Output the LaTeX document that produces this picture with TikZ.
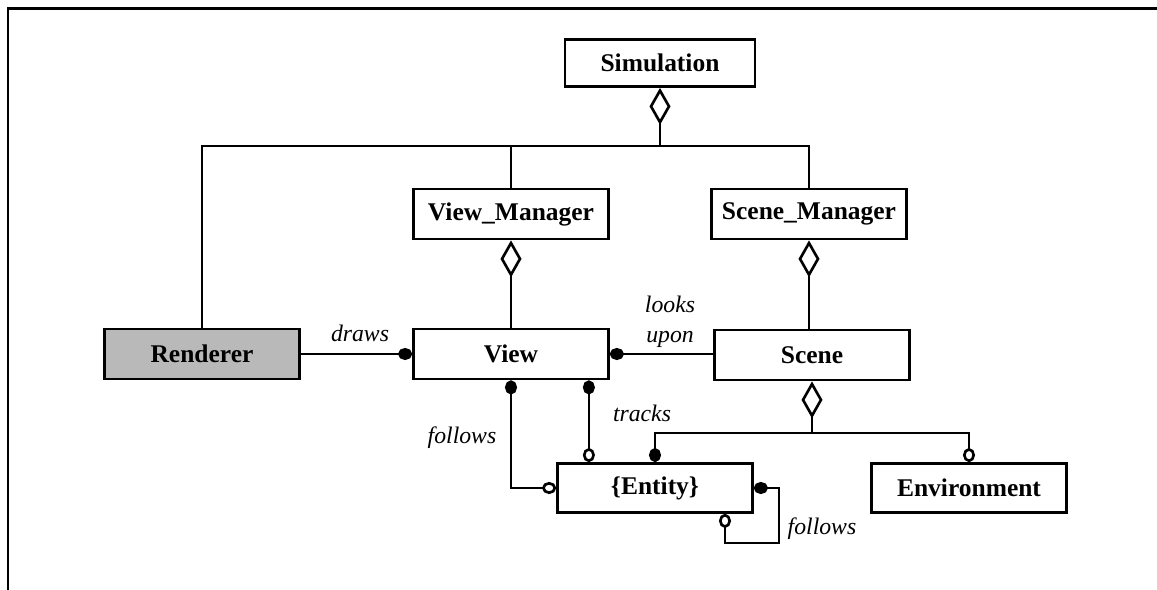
\documentclass[tikz,border=0pt]{standalone}
\usepackage{fontspec}
\setmainfont{Liberation Serif}
\usetikzlibrary{positioning,arrows.meta}
\definecolor{shadegray}{RGB}{185,185,185}

\begin{document}
\begin{tikzpicture}[x=0.02cm, y=-0.02cm,
    every node/.style={font=\fontsize{14.5}{17}\selectfont\bfseries},
    cls/.style={draw,line width=1.6pt,minimum width=3.9cm,minimum height=1cm,inner sep=0pt},
    rel/.style={font=\fontsize{13.5}{17}\selectfont\itshape,align=center,inner sep=1pt},
    link/.style={line width=1.5pt},
    agg/.style={link,{Diamond[open,length=0.74cm,width=0.42cm]}-}]
      \useasboundingbox (0,0) rectangle (1157,590);
      \draw[line width=1.7pt] (1157,9) -- (8,9) -- (8,590);
      \coordinate (topbus) at (0,146);
      \coordinate (scenebus) at (0,433);
      \node[cls,minimum width=3.8cm,minimum height=0.94cm] (sim) at (660,63) {Simulation};
      \node[cls] (vmgr) at (511,214) {View\_Manager};
      \node[cls] (smgr) at (809,214) {Scene\_Manager};
      \node[cls,fill=shadegray] (rend) at (202,354) {Renderer};
      \node[cls] (view) at (511,354) {View};
      \node[cls] (scene) at (812,355) {Scene};
      \node[cls,minimum height=0.98cm] (ent) at (655,488) {\{Entity\}};
      \node[cls,minimum height=0.98cm] (env) at (969,488) {Environment};
      \node[rel] (drawslbl) at (360,333) {draws};
      \node[rel] (lookslbl) at (670,322) {looks\\upon};
      \node[rel] (trackslbl) at (642,413) {tracks};
      \node[rel] (followslbl) at (462,438) {follows};
      \node[rel] (selflbl) at (822,529) {follows};
      % aggregation trees
      \draw[agg] (sim.south) -- (sim.south |- topbus);
      \draw[link] (rend.north) -- (rend.north |- topbus) -- (smgr.north |- topbus) -- (smgr.north);
      \draw[link] (vmgr.north |- topbus) -- (vmgr.north);
      \draw[agg] (vmgr.south) -- (view.north);
      \draw[agg] (smgr.south) -- (smgr.south |- scene.north);
      \draw[agg] (scene.south) -- (scene.south |- scenebus);
      \draw[link,-{Circle[length=2.8mm,width=2.4mm]}] (scene.south |- scenebus) -| (ent.north);
      \draw[link,-{Circle[open,length=2.8mm,width=2.4mm]}] (scene.south |- scenebus) -| (env.north);
      % associations
      \draw[link,-{Circle[length=2.8mm,width=2.4mm]}] (rend.east) -- (view.west);
      \draw[link,{Circle[length=2.8mm,width=2.4mm]}-] (view.east) -- (scene.west |- view.east);
      \draw[link,{Circle[length=2.8mm,width=2.4mm]}-{Circle[open,length=2.8mm,width=2.4mm]}] (view.south) |- (ent.west);
      \draw[link,{Circle[length=2.8mm,width=2.4mm]}-{Circle[open,length=2.8mm,width=2.4mm]}] ([xshift=-0.42cm]view.south east) -- ([xshift=-0.42cm]view.south east |- ent.north);
      \draw[link,{Circle[length=2.8mm,width=2.4mm]}-{Circle[open,length=2.8mm,width=2.4mm]}] (ent.east) -- ++(25,0) -- ++(0,55) -| ([xshift=1.4cm]ent.south);
    \end{tikzpicture}
\end{document}
